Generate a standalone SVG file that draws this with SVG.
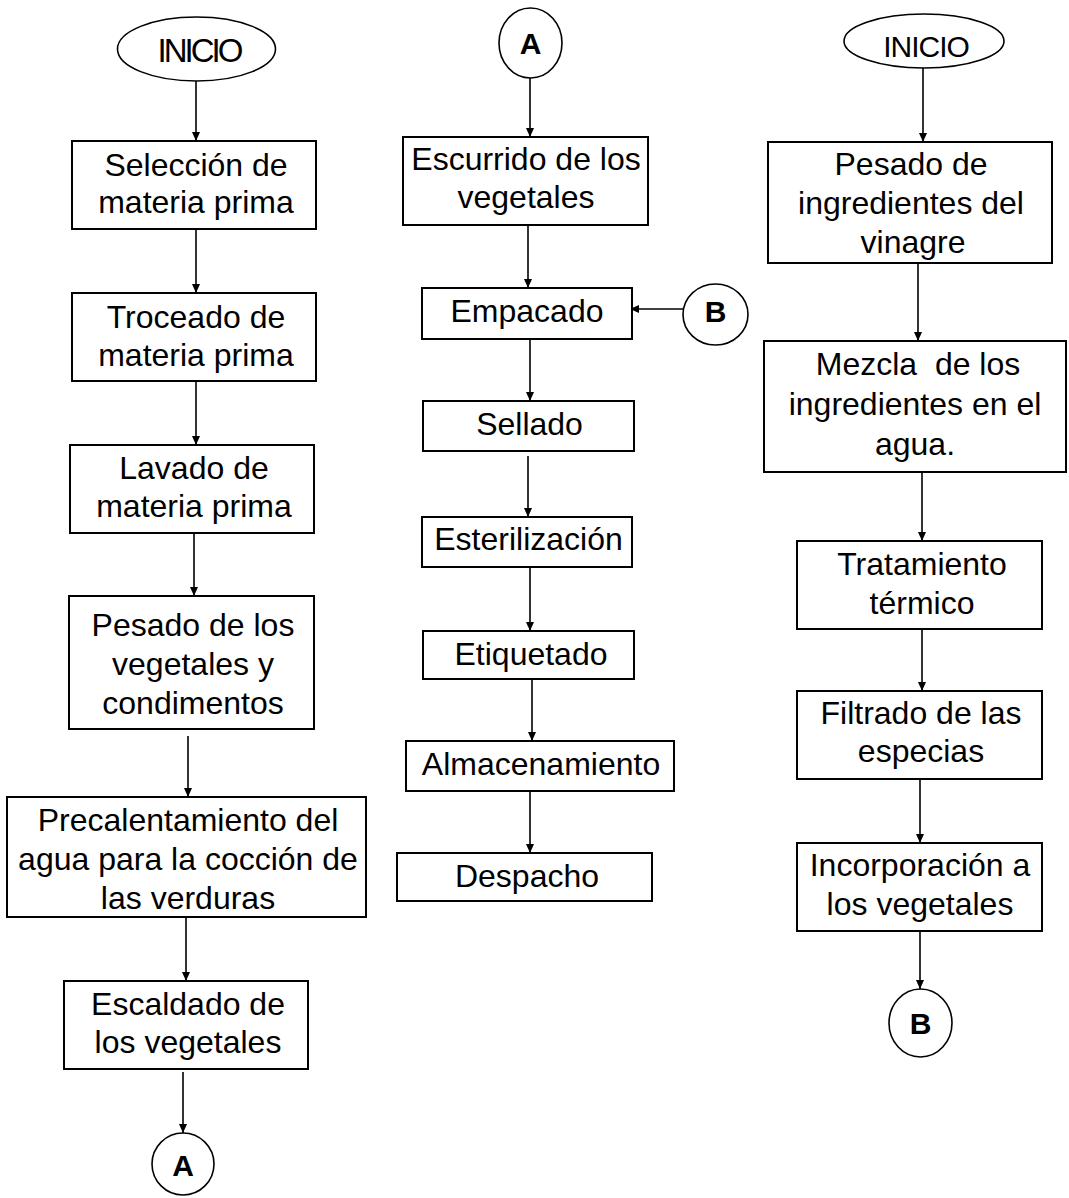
<svg xmlns="http://www.w3.org/2000/svg" width="1069" height="1198" viewBox="0 0 1069 1198">
<defs>
<style>
.box{fill:#fff;stroke:#000;stroke-width:2}
.term{fill:#fff;stroke:#000;stroke-width:1.6}
.t{font-family:"Liberation Sans",Arial,sans-serif;font-size:32px;fill:#000;text-anchor:middle}
.ini{font-family:"Liberation Sans",Arial,sans-serif;font-size:33px;letter-spacing:-3px;fill:#000;text-anchor:middle}
.ini2{font-family:"Liberation Sans",Arial,sans-serif;font-size:30px;letter-spacing:-1px;fill:#000;text-anchor:middle}
.c{font-family:"Liberation Sans",Arial,sans-serif;font-size:30px;font-weight:bold;fill:#000;text-anchor:middle}
.ln{stroke:#000;stroke-width:1.6;fill:none;marker-end:url(#ah)}
</style>
<marker id="ah" markerUnits="userSpaceOnUse" markerWidth="9" markerHeight="8" refX="9" refY="4" orient="auto">
<path d="M0,0 L9,4 L0,8 z" fill="#000"/>
</marker>
</defs>
<rect width="1069" height="1198" fill="#fff"/>
<g id="connectors">
<line class="ln" x1="196" y1="81" x2="196" y2="141"/>
<line class="ln" x1="196" y1="229" x2="196" y2="293"/>
<line class="ln" x1="196" y1="381" x2="196" y2="445"/>
<line class="ln" x1="194" y1="533" x2="194" y2="596"/>
<line class="ln" x1="188" y1="736" x2="188" y2="797"/>
<line class="ln" x1="186" y1="917" x2="186" y2="981"/>
<line class="ln" x1="183" y1="1072" x2="183" y2="1133"/>
<line class="ln" x1="530" y1="78" x2="530" y2="137"/>
<line class="ln" x1="528" y1="225" x2="528" y2="288"/>
<line class="ln" x1="683" y1="309" x2="630" y2="309"/>
<line class="ln" x1="530" y1="339" x2="530" y2="401"/>
<line class="ln" x1="528" y1="456" x2="528" y2="517"/>
<line class="ln" x1="530" y1="567" x2="530" y2="631"/>
<line class="ln" x1="532" y1="679" x2="532" y2="741"/>
<line class="ln" x1="530" y1="791" x2="530" y2="853"/>
<line class="ln" x1="923" y1="68" x2="923" y2="142"/>
<line class="ln" x1="918" y1="263" x2="918" y2="341"/>
<line class="ln" x1="922" y1="472" x2="922" y2="541"/>
<line class="ln" x1="922" y1="629" x2="922" y2="691"/>
<line class="ln" x1="920" y1="779" x2="920" y2="843"/>
<line class="ln" x1="920" y1="931" x2="920" y2="989"/>
</g>
<g id="inicio1"><ellipse class="term" cx="196.5" cy="49" rx="79" ry="32"/><text class="ini" x="199" y="62">INICIO</text></g>
<g id="seleccion"><rect class="box" x="72" y="141" width="244" height="88"/><text class="t" x="196" y="176">Selección de</text><text class="t" x="196" y="213">materia prima</text></g>
<g id="troceado"><rect class="box" x="72" y="293" width="244" height="88"/><text class="t" x="196" y="328">Troceado de</text><text class="t" x="196" y="366">materia prima</text></g>
<g id="lavado"><rect class="box" x="70" y="445" width="244" height="88"/><text class="t" x="194" y="479">Lavado de</text><text class="t" x="194" y="517">materia prima</text></g>
<g id="pesado1"><rect class="box" x="69" y="596" width="245" height="133"/><text class="t" x="193" y="636">Pesado de los</text><text class="t" x="193" y="675">vegetales y</text><text class="t" x="193" y="714">condimentos</text></g>
<g id="precal"><rect class="box" x="7" y="797" width="359" height="120"/><text class="t" x="188" y="831">Precalentamiento del</text><text class="t" x="188" y="870">agua para la cocción de</text><text class="t" x="188" y="909">las verduras</text></g>
<g id="escaldado"><rect class="box" x="64" y="981" width="244" height="88"/><text class="t" x="188" y="1015">Escaldado de</text><text class="t" x="188" y="1053">los vegetales</text></g>
<g id="connA1"><ellipse class="term" cx="183" cy="1164" rx="31" ry="31"/><text class="c" x="183" y="1176">A</text></g>
<g id="connA2"><ellipse class="term" cx="530.5" cy="43" rx="31.5" ry="35"/><text class="c" x="530.5" y="54">A</text></g>
<g id="escurrido"><rect class="box" x="403" y="137" width="245" height="88"/><text class="t" x="526" y="170">Escurrido de los</text><text class="t" x="526" y="208">vegetales</text></g>
<g id="empacado"><rect class="box" x="422" y="288" width="210" height="51"/><text class="t" x="527" y="322">Empacado</text></g>
<g id="connB1"><ellipse class="term" cx="715.5" cy="314.5" rx="32.5" ry="30.5"/><text class="c" x="715.5" y="322">B</text></g>
<g id="sellado"><rect class="box" x="423" y="401" width="211" height="50"/><text class="t" x="529.5" y="435">Sellado</text></g>
<g id="esterilizacion"><rect class="box" x="422" y="517" width="210" height="50"/><text class="t" x="528.5" y="550">Esterilización</text></g>
<g id="etiquetado"><rect class="box" x="423" y="631" width="211" height="48"/><text class="t" x="531" y="665">Etiquetado</text></g>
<g id="almacenamiento"><rect class="box" x="406" y="741" width="268" height="50"/><text class="t" x="541" y="775">Almacenamiento</text></g>
<g id="despacho"><rect class="box" x="397" y="853" width="255" height="48"/><text class="t" x="527" y="887">Despacho</text></g>
<g id="inicio2"><ellipse class="term" cx="924" cy="41" rx="80" ry="27"/><text class="ini2" x="926" y="57">INICIO</text></g>
<g id="pesado2"><rect class="box" x="768" y="142" width="284" height="121"/><text class="t" x="911" y="175">Pesado de</text><text class="t" x="911" y="214">ingredientes del</text><text class="t" x="913" y="253">vinagre</text></g>
<g id="mezcla"><rect class="box" x="764" y="341" width="302" height="131"/><text class="t" x="918" y="375" xml:space="preserve">Mezcla  de los</text><text class="t" x="915" y="415">ingredientes en el</text><text class="t" x="915" y="455">agua.</text></g>
<g id="tratamiento"><rect class="box" x="797" y="541" width="245" height="88"/><text class="t" x="922" y="575">Tratamiento</text><text class="t" x="922" y="614">térmico</text></g>
<g id="filtrado"><rect class="box" x="797" y="691" width="245" height="88"/><text class="t" x="921" y="724">Filtrado de las</text><text class="t" x="921" y="762">especias</text></g>
<g id="incorporacion"><rect class="box" x="797" y="843" width="245" height="88"/><text class="t" x="920" y="876">Incorporación a</text><text class="t" x="920" y="915">los vegetales</text></g>
<g id="connB2"><ellipse class="term" cx="920.5" cy="1023" rx="31.5" ry="34"/><text class="c" x="920.5" y="1034">B</text></g>
</svg>
